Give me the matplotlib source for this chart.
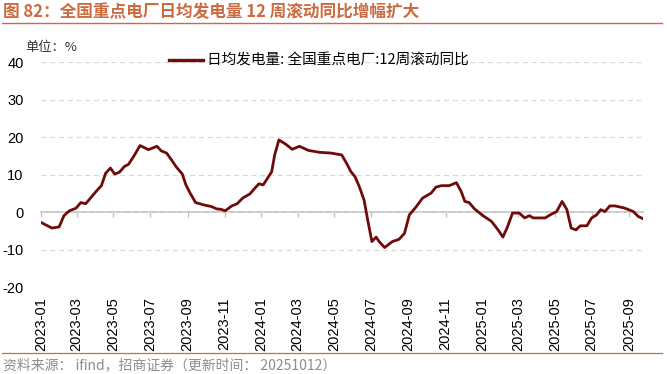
import matplotlib
matplotlib.use("Agg")
import matplotlib.pyplot as plt
import matplotlib.dates as mdates
from matplotlib.lines import Line2D
import pandas as pd

# =============================================================================
# DATA
# =============================================================================
DATES = [
    "2023-01-01", "2023-01-19", "2023-01-31", "2023-02-08", "2023-02-17", "2023-02-28",
    "2023-03-08", "2023-03-16", "2023-03-24", "2023-04-03", "2023-04-11", "2023-04-18",
    "2023-04-26", "2023-05-03", "2023-05-11", "2023-05-19", "2023-05-26", "2023-06-05",
    "2023-06-14", "2023-06-28", "2023-07-12", "2023-07-19", "2023-07-28", "2023-08-05",
    "2023-08-13", "2023-08-23", "2023-08-29", "2023-09-05", "2023-09-14", "2023-09-27",
    "2023-10-11", "2023-10-19", "2023-10-26", "2023-11-02", "2023-11-13", "2023-11-22",
    "2023-12-01", "2023-12-13", "2023-12-21", "2023-12-28", "2024-01-04", "2024-01-10",
    "2024-01-18", "2024-01-23", "2024-01-30", "2024-02-10", "2024-02-21", "2024-03-04",
    "2024-03-19", "2024-04-06", "2024-04-25", "2024-05-13", "2024-05-21", "2024-05-28",
    "2024-06-04", "2024-06-11", "2024-06-19", "2024-06-25", "2024-07-02", "2024-07-09",
    "2024-07-14", "2024-07-23", "2024-08-05", "2024-08-16", "2024-08-25", "2024-09-02",
    "2024-09-13", "2024-09-24", "2024-10-08", "2024-10-16", "2024-10-25", "2024-11-07",
    "2024-11-19", "2024-11-27", "2024-12-03", "2024-12-10", "2024-12-19", "2025-01-02",
    "2025-01-16", "2025-01-27", "2025-02-04", "2025-02-11", "2025-02-20", "2025-03-03",
    "2025-03-12", "2025-03-20", "2025-03-26", "2025-04-15", "2025-04-23", "2025-05-04",
    "2025-05-13", "2025-05-21", "2025-05-28", "2025-06-05", "2025-06-12", "2025-06-23",
    "2025-07-01", "2025-07-09", "2025-07-16", "2025-07-23", "2025-07-31", "2025-08-09",
    "2025-08-25", "2025-09-08", "2025-09-16", "2025-09-24",
]
YOY = [
    -2.7, -4.2, -3.9, -0.9, 0.4, 1.1,
    2.6, 2.3, 3.8, 5.7, 7.1, 10.4,
    11.8, 10.2, 10.7, 12.2, 12.8, 15.3,
    17.8, 16.7, 17.6, 16.4, 15.8, 14.0,
    12.1, 10.2, 7.3, 5.1, 2.6, 2.0,
    1.5, 0.9, 0.8, 0.4, 1.7, 2.3,
    3.8, 4.9, 6.4, 7.6, 7.3, 8.8,
    10.8, 15.3, 19.3, 18.2, 16.8, 17.6,
    16.5, 16.0, 15.8, 15.3, 13.1, 10.9,
    9.5, 6.9, 3.3, -2.0, -7.8, -6.6,
    -7.8, -9.4, -7.8, -7.2, -5.6, -0.7,
    1.4, 3.8, 5.1, 6.7, 7.1, 7.1,
    7.9, 5.5, 2.9, 2.6, 0.9, -0.9,
    -2.4, -4.7, -6.6, -4.1, -0.2, -0.2,
    -1.5, -0.9, -1.5, -1.5, -0.7, 0.2,
    2.9, 0.7, -4.2, -4.7, -3.6, -3.6,
    -1.5, -0.7, 0.7, 0.2, 1.7, 1.7,
    1.1, 0.2, -1.1, -1.7,
]
Y_TICKS = [-20, -10, 0, 10, 20, 30, 40]

TITLE = "图 82：全国重点电厂日均发电量 12 周滚动同比增幅扩大"
SERIES_LABEL = "日均发电量: 全国重点电厂:12周滚动同比"
UNIT = "单位：%"
SOURCE = "资料来源： ifind，招商证券（更新时间： 20251012）"

# =============================================================================
# STYLE
# =============================================================================
C_LINE = "#6E0B0B"
C_ACCENT = "#CC6A40"
C_GRID = "#D9D9D9"
C_AXIS = "#BFBFBF"
C_SOURCE = "#8C8C8C"
CJK = ["Noto Sans CJK SC", "DejaVu Sans"]
LATIN = ["Liberation Sans", "DejaVu Sans"]

W, H = 667, 374

plt.rcParams["axes.unicode_minus"] = False

# =============================================================================
# PLOT
# =============================================================================
dates = pd.to_datetime(DATES)

fig = plt.figure(figsize=(W / 100, H / 100), dpi=100, facecolor="white")
ax = fig.add_axes([41 / W, 1 - 287.3 / H, (643 - 41) / W, (287.3 - 62.3) / H])

ax.plot(dates, YOY, color=C_LINE, lw=2.0, solid_joinstyle="round", zorder=3)

ax.set_xlim(dates[0], dates[-1])
ax.set_ylim(Y_TICKS[0], Y_TICKS[-1])
ax.set_yticks(Y_TICKS)

xticks = pd.date_range("2023-01-01", "2025-09-01", freq="2MS")
ax.set_xticks(xticks)
ax.xaxis.set_major_formatter(mdates.DateFormatter("%Y-%m"))

for s in ax.spines.values():
    s.set_visible(False)

ax.yaxis.grid(True, color=C_GRID, lw=0.9, linestyle=(0, (4, 3)))
ax.set_axisbelow(True)

ax.tick_params(axis="x", length=0, pad=7, labelrotation=90, labelsize=10.5)
ax.tick_params(axis="y", length=0, pad=12.5, labelsize=10.5)
for lbl in ax.get_xticklabels() + ax.get_yticklabels():
    lbl.set_family(LATIN)

# zero line with small tick marks
zero_frac = (0 - Y_TICKS[0]) / (Y_TICKS[-1] - Y_TICKS[0])
sec = ax.secondary_xaxis(zero_frac)
sec.set_xticks(xticks)
sec.set_xticklabels([])
sec.spines["bottom"].set_color(C_AXIS)
sec.spines["bottom"].set_linewidth(1.2)
sec.tick_params(axis="x", length=3.5, width=0.9, color=C_AXIS, direction="out")

# legend
handle = Line2D([], [], color=C_LINE, lw=2.4)
fig.legend([handle], [SERIES_LABEL], loc="center left",
           bbox_to_anchor=(169 / W, 1 - 61 / H), frameon=False,
           borderpad=0, borderaxespad=0, handlelength=2.3, handletextpad=0.3,
           prop={"family": CJK, "size": 10.5})

fig.text(25 / W, 1 - 48 / H, UNIT, family=CJK, fontsize=9.5, color="#333333",
         ha="left", va="center")

# title + rules
fig.text(3 / W, 1 - 12 / H, TITLE, family=CJK, fontsize=12, fontweight="bold",
         color=C_ACCENT, ha="left", va="center")
fig.add_artist(Line2D([2 / W, 662 / W], [1 - 22.5 / H] * 2, transform=fig.transFigure,
                      color=C_ACCENT, lw=1.0))
fig.add_artist(Line2D([2 / W, 662 / W], [1 - 352.5 / H] * 2, transform=fig.transFigure,
                      color=C_ACCENT, lw=0.9))

fig.text(3 / W, 1 - 365.5 / H, SOURCE, family=CJK, fontsize=10, color=C_SOURCE,
         ha="left", va="center")

fig.savefig("out.png", dpi=100, facecolor="white")
